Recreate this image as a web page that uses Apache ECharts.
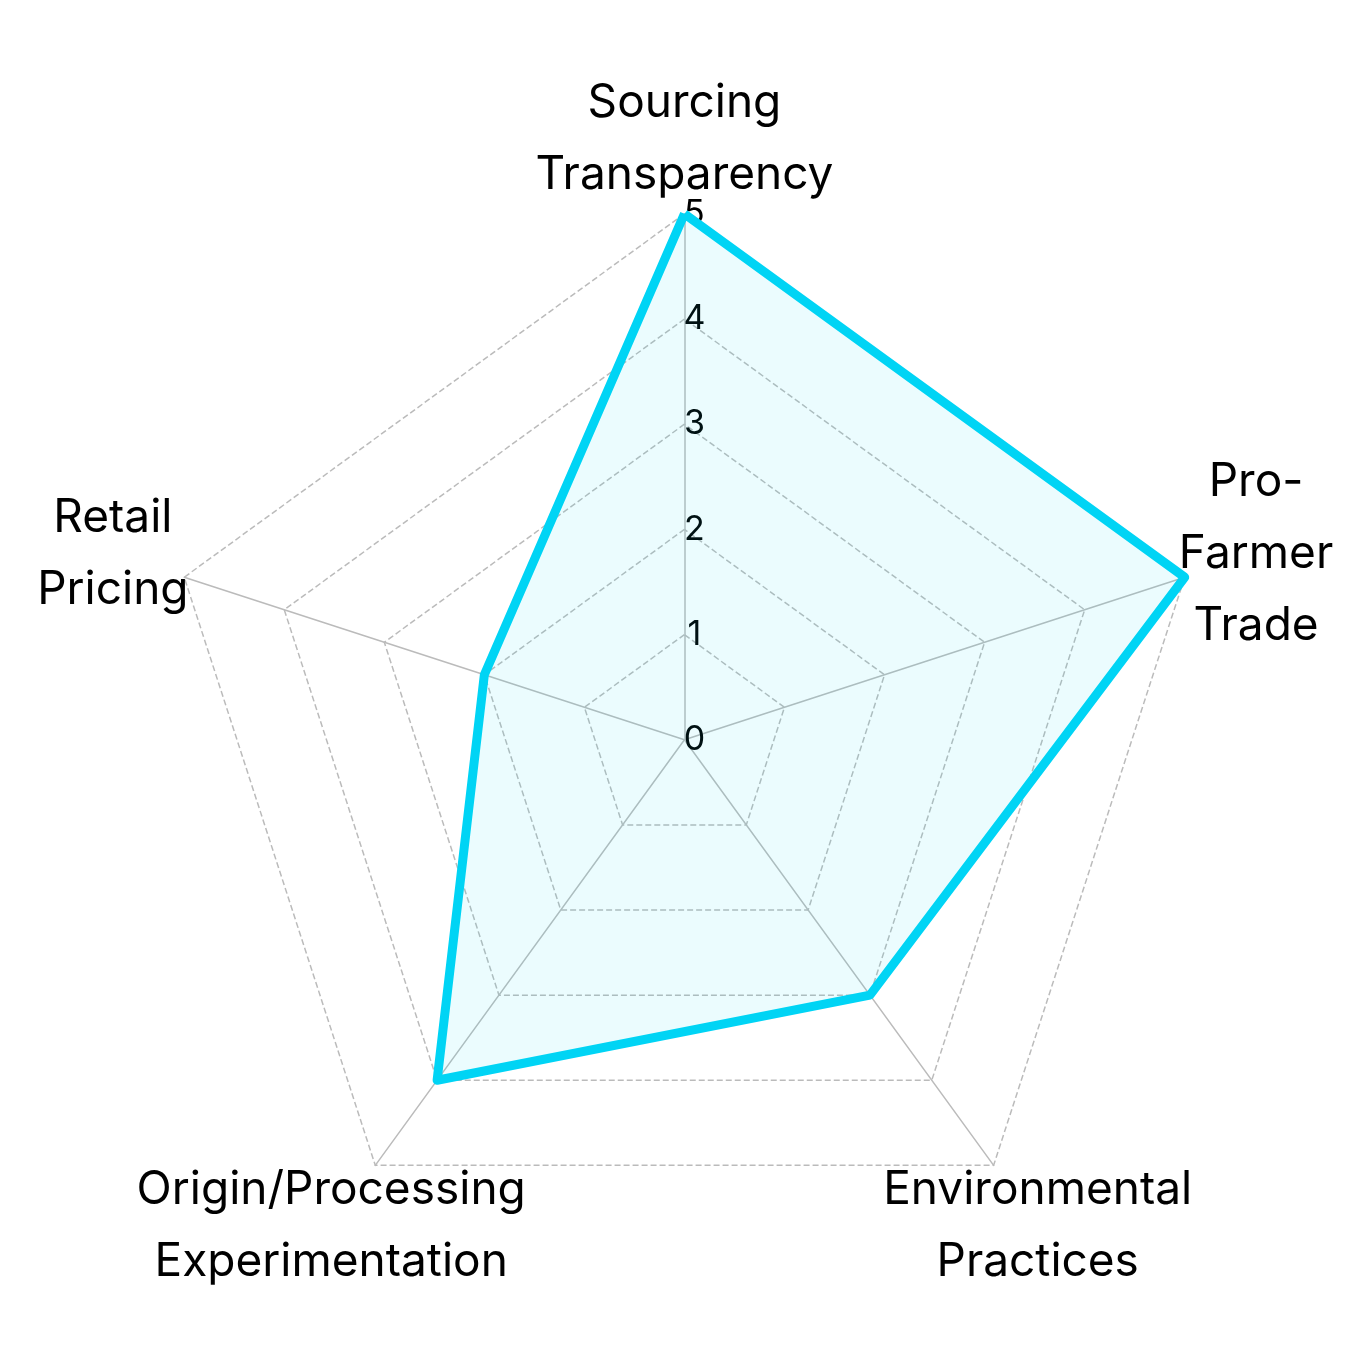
<!DOCTYPE html>
<html><head><meta charset="utf-8">
<script src="https://cdn.jsdelivr.net/npm/echarts@6/dist/echarts.min.js"></script>
<style>html,body{margin:0;background:#fff}#c{width:1350px;height:1350px}</style>
</head><body><div id="c"></div>
<script>
// listed counterclockwise from top (ECharts radar order), i.e. the picture read clockwise reversed
const categories = ['Sourcing\nTransparency', 'Retail\nPricing', 'Origin/Processing\nExperimentation', 'Environmental\nPractices', 'Pro-\nFarmer\nTrade'];
const values = [5, 2, 4, 3, 5];
const maxValue = 5;
const tickLabels = [0, 1, 2, 3, 4, 5];

const chart = echarts.init(document.getElementById('c'));
chart.setOption({
  animation: false,
  textStyle: { fontFamily: 'Inter' },
  radar: {
    center: ['50.7%', '54.8%'],
    radius: 526,
    startAngle: 90,
    splitNumber: 5,
    shape: 'polygon',
    indicator: categories.map(n => ({ name: n, max: maxValue, min: 0 })),
    axisName: { color: '#000', fontSize: 46, lineHeight: 72, fontFamily: 'Inter', align: 'center', verticalAlign: 'middle' },
    nameGap: 75,
    splitArea: { show: false },
    splitLine: { lineStyle: { color: '#bbb', type: 'dashed', width: 1.5 } },
    axisLine: { lineStyle: { color: '#bbb', width: 1.5 } }
  },
  polar: { center: ['50.7%', '54.8%'], radius: 526 },
  angleAxis: { show: false, startAngle: 90, min: 0, max: 360 },
  radiusAxis: {
    min: 0, max: maxValue, interval: 1,
    axisLine: { show: false }, axisTick: { show: false }, splitLine: { show: false },
    axisLabel: { show: true, fontSize: 34, color: '#000', margin: -10, align: 'center',
      formatter: v => tickLabels.includes(v) ? String(v) : '' }
  },
  series: [{
    type: 'radar',
    symbol: 'none',
    data: [{ value: values }],
    lineStyle: { color: '#00d4f5', width: 9 },
    areaStyle: { color: 'rgba(0,212,245,0.11)' }
  }]
});
</script></body></html>
